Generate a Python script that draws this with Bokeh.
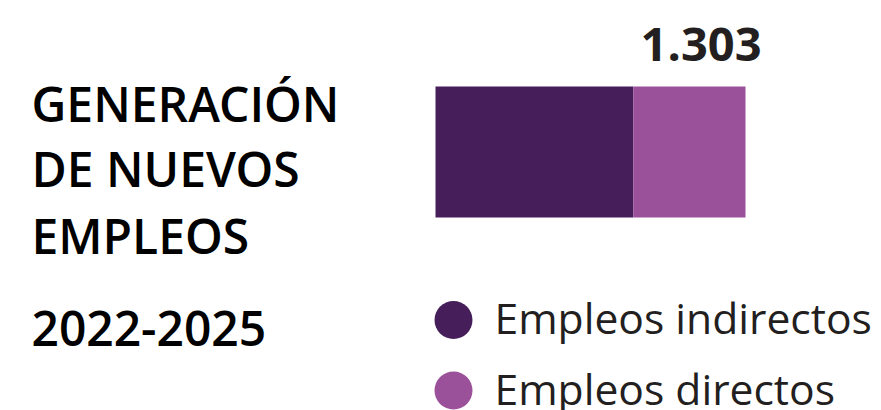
from bokeh.plotting import figure
from bokeh.models import Range1d, ColumnDataSource
from bokeh.core.properties import value
from bokeh.embed import file_html
from bokeh.resources import INLINE

# ---- data ----
series = ["Empleos indirectos", "Empleos directos"]
values = [831, 472]
colors = ["#461f5a", "#9b5199"]
total_label = "1.303"
title_lines = ["GENERACIÓN", "DE NUEVOS", "EMPLEOS", "2022-2025"]

# ---- layout (canvas pixels) ----
W, H = 881, 410
bar_left_px, bar_px = 435, 310
total = sum(values)
scale = bar_px / total
x0 = -bar_left_px / scale
x1 = x0 + W / scale


def px_to_x(px):
    return x0 + px / scale


p = figure(width=W, height=H, output_backend="svg", toolbar_location=None,
           x_range=Range1d(x0, x1), y_range=Range1d(H, 0),
           min_border=0, outline_line_color=None)
p.axis.visible = False
p.grid.visible = False
p.background_fill_color = "white"
p.border_fill_color = "white"

src = ColumnDataSource(dict(y=[151.5], **{s: [v] for s, v in zip(series, values)}))
p.hbar_stack(series, y="y", height=131, color=colors, source=src, line_color=None)

FONT = value("Open Sans")
FONT_SEMI = value("'Open Sans SemiBold', 'Open Sans'")

# total label
p.text(x=[total], y=[44], text=[total_label], text_align="right",
       text_baseline="alphabetic", x_offset=16, text_font=FONT,
       text_font_style="bold", text_font_size="47px", text_color="#231f20")

# title
p.text(x=[px_to_x(31)] * len(title_lines), y=[103, 168, 235, 328], text=title_lines,
       text_align="left", text_baseline="alphabetic", text_font=FONT_SEMI,
       text_font_style="bold", text_font_size="48px", text_color="#000000")

# legend
leg_y = [319.5, 390]
p.circle(x=[px_to_x(453)] * 2, y=leg_y, radius=19, radius_units="screen",
         color=colors, line_color=None)
p.text(x=[px_to_x(494)] * 2, y=[316, 387], text=series, text_align="left",
       text_baseline="alphabetic", text_font=FONT, text_font_size="42.6px",
       text_color="#231f20")

open("out.html", "w").write(file_html(p, INLINE))
